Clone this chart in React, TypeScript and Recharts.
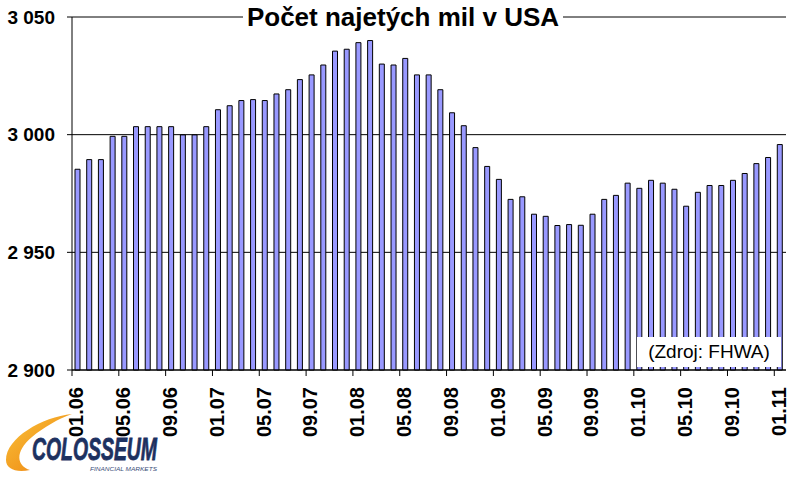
import { BarChart, Bar, XAxis, YAxis, CartesianGrid, ReferenceLine } from "recharts";

// months (MM.YY), one bar per month
const months = [
  "01.06", "02.06", "03.06", "04.06", "05.06", "06.06", "07.06", "08.06", "09.06", "10.06", "11.06", "12.06",
  "01.07", "02.07", "03.07", "04.07", "05.07", "06.07", "07.07", "08.07", "09.07", "10.07", "11.07", "12.07",
  "01.08", "02.08", "03.08", "04.08", "05.08", "06.08", "07.08", "08.08", "09.08", "10.08", "11.08", "12.08",
  "01.09", "02.09", "03.09", "04.09", "05.09", "06.09", "07.09", "08.09", "09.09", "10.09", "11.09", "12.09",
  "01.10", "02.10", "03.10", "04.10", "05.10", "06.10", "07.10", "08.10", "09.10", "10.10", "11.10", "12.10",
  "01.11",
];

// miles driven
const miles = [
  2985.3, 2989.4, 2989.4, 2999.3, 2999.3, 3003.4, 3003.4, 3003.4, 3003.4, 2999.9, 2999.9, 3003.4,
  3010.6, 3012.3, 3014.5, 3014.9, 3014.5, 3017.3, 3019.1, 3023.4, 3025.4, 3029.6, 3035.5, 3036.3,
  3039.1, 3040.0, 3030.0, 3029.6, 3032.4, 3025.4, 3025.4, 3019.1, 3009.3, 3003.8, 2994.5, 2986.5,
  2981.0, 2972.5, 2973.6, 2966.2, 2965.3, 2961.4, 2961.8, 2961.5, 2966.2, 2972.5, 2974.2, 2979.4,
  2977.2, 2980.6, 2979.4, 2976.8, 2969.6, 2975.5, 2978.4, 2978.4, 2980.6, 2983.5, 2987.7, 2990.3,
  2995.8,
];

const yTicks = [2900, 2950, 3000, 3050];
const yTickLabels = ["2 900", "2 950", "3 000", "3 050"];

const data = months.map((m, i) => ({ month: m, value: miles[i] }));

const W = 802;
const H = 482;
const PLOT_LEFT = 72;
const PLOT_RIGHT = 786;
const PLOT_TOP = 17;
const PLOT_BOTTOM = 370;
const BAND = (PLOT_RIGHT - PLOT_LEFT) / months.length;
const FONT = "'Liberation Sans', Arial, sans-serif";

const XTick = (props: any) => {
  const { x, payload } = props;
  const edge = x - BAND / 2;
  return (
    <g>
      <line x1={edge} y1={PLOT_BOTTOM} x2={edge} y2={PLOT_BOTTOM + 6} stroke="#000" />
      <text
        transform={`translate(${x - 1.5},${PLOT_BOTTOM + 17}) rotate(-90)`}
        textAnchor="end"
        dy="0.35em"
        fontFamily={FONT}
        fontWeight="bold"
        fontSize={20}
        fill="#000"
      >
        {payload.value}
      </text>
    </g>
  );
};

function Logo() {
  return (
    <svg width={260} height={82} style={{ position: "absolute", left: 0, top: 400 }}>
      <defs>
        <linearGradient id="swoosh" x1="0" y1="0" x2="1" y2="1">
          <stop offset="0%" stopColor="#f9c33a" />
          <stop offset="60%" stopColor="#f29a1f" />
          <stop offset="100%" stopColor="#e2621b" />
        </linearGradient>
      </defs>
      <path
        d="M 72 14 C 42 17, 6 38, 6 60 C 6 69, 16 73, 30 70 C 17 66, 14 52, 32 37 C 44 27, 58 19, 72 14 Z"
        fill="url(#swoosh)"
      />
      <text
        x={32}
        y={60}
        textLength={125}
        lengthAdjust="spacingAndGlyphs"
        fontFamily={FONT}
        fontWeight="bold"
        fontStyle="italic"
        fontSize={32}
        fill="#1d3160"
        stroke="#1d3160"
        strokeWidth={0.8}
      >
        COLOSSEUM
      </text>
      <text
        x={90}
        y={71}
        textLength={67}
        lengthAdjust="spacingAndGlyphs"
        fontFamily={FONT}
        fontStyle="italic"
        fontSize={6}
        fill="#3a4d78"
      >
        FINANCIAL MARKETS
      </text>
    </svg>
  );
}

export default function App() {
  return (
    <div style={{ position: "absolute", left: 0, top: 0, width: W, height: H, background: "#fff" }}>
      <BarChart
        width={W}
        height={H}
        data={data}
        margin={{ top: PLOT_TOP, right: W - PLOT_RIGHT, left: 0, bottom: 0 }}
      >
        <CartesianGrid vertical={false} stroke="#000" />
        <XAxis
          dataKey="month"
          height={H - PLOT_BOTTOM}
          interval={3}
          tickLine={false}
          stroke="#000"
          tick={<XTick />}
        />
        <YAxis
          domain={[2900, 3050]}
          ticks={yTicks}
          width={PLOT_LEFT}
          tickSize={5}
          tickMargin={12}
          stroke="#000"
          tickFormatter={(v: number) => yTickLabels[yTicks.indexOf(v)]}
          tick={{ fontFamily: FONT, fontWeight: "bold", fontSize: 19, fill: "#000" }}
        />
        <YAxis
          yAxisId="right"
          orientation="right"
          domain={[2900, 3050]}
          width={0}
          tick={false}
          tickLine={false}
          stroke="#808080"
        />
        <ReferenceLine y={3050} stroke="#808080" />
        <Bar
          dataKey="value"
          fill="#9999ff"
          stroke="#000"
          strokeWidth={1}
          barSize={5}
          isAnimationActive={false}
        />
      </BarChart>

      <div
        style={{
          position: "absolute",
          left: 243,
          top: 3,
          width: 320,
          height: 28,
          lineHeight: "28px",
          textAlign: "center",
          background: "#fff",
          fontFamily: FONT,
          fontWeight: "bold",
          fontSize: 26,
          color: "#000",
        }}
      >
        Počet najetých mil v USA
      </div>

      <div
        style={{
          position: "absolute",
          left: 637,
          top: 337,
          width: 144,
          height: 30,
          lineHeight: "30px",
          textAlign: "center",
          background: "#fff",
          fontFamily: FONT,
          fontSize: 19,
          color: "#000",
        }}
      >
        (Zdroj: FHWA)
      </div>

      <Logo />
    </div>
  );
}
